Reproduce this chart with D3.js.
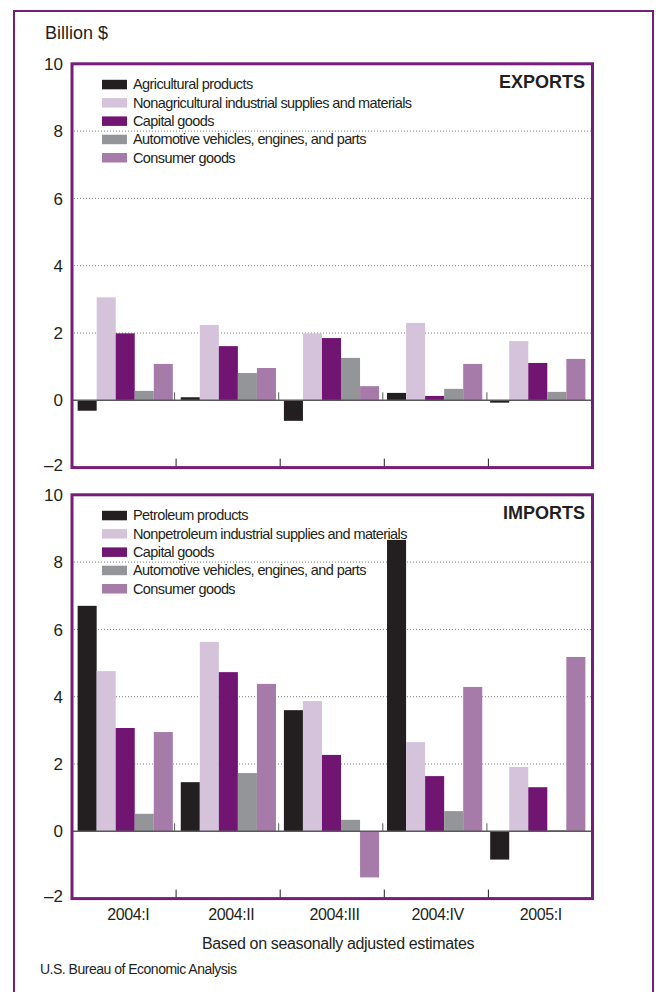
<!DOCTYPE html>
<html>
<head>
<meta charset="utf-8">
<script src="https://cdn.jsdelivr.net/npm/d3@7"></script>
<style>
  body { margin: 0; background: #fff; }
  svg { display: block; font-family: "Liberation Sans", Arial, sans-serif; }
</style>
</head>
<body>
<svg width="656" height="992"></svg>
<script>
// categories
const quarters = ["2004:I", "2004:II", "2004:III", "2004:IV", "2005:I"];
const yTicks = [-2, 0, 2, 4, 6, 8, 10];

const exportSeries = [
  "Agricultural products",
  "Nonagricultural industrial supplies and materials",
  "Capital goods",
  "Automotive vehicles, engines, and parts",
  "Consumer goods"
];
const importSeries = [
  "Petroleum products",
  "Nonpetroleum industrial supplies and materials",
  "Capital goods",
  "Automotive vehicles, engines, and parts",
  "Consumer goods"
];

// change, billion $
const exportsAgri     = [-0.31, 0.09, -0.61, 0.22, -0.07];
const exportsNonag    = [3.06, 2.24, 1.99, 2.30, 1.76];
const exportsCapital  = [1.99, 1.61, 1.85, 0.13, 1.11];
const exportsAuto     = [0.28, 0.81, 1.26, 0.34, 0.25];
const exportsConsumer = [1.08, 0.96, 0.42, 1.08, 1.23];

const importsPetroleum = [6.70, 1.46, 3.60, 8.66, -0.84];
const importsNonpet    = [4.76, 5.63, 3.87, 2.65, 1.91];
const importsCapital   = [3.07, 4.73, 2.27, 1.64, 1.31];
const importsAuto      = [0.52, 1.73, 0.34, 0.60, 0.04];
const importsConsumer  = [2.95, 4.38, -1.37, 4.29, 5.18];

const colors = ["#231f20", "#d5c3dc", "#701672", "#939598", "#a67ba9"];
const purple = "#761c79";

const svg = d3.select("svg");

// outer frame
svg.append("rect")
  .attr("x", 14).attr("y", 11)
  .attr("width", 639).attr("height", 1000)
  .attr("fill", "none")
  .attr("stroke", purple)
  .attr("stroke-width", 2);

svg.append("text")
  .attr("x", 45).attr("y", 39)
  .attr("font-size", 18)
  .attr("fill", "#231f20")
  .text("Billion $");

const left = 72, right = 592.5;

// group positions
const x0 = d3.scaleBand()
  .domain(quarters)
  .range([73.5, 589.5])
  .paddingInner(0.077)
  .paddingOuter(0.04);

// dividers between quarters
const xDiv = d3.scaleLinear().domain([0, quarters.length]).range([left, right]);

const panels = [
  { title: "EXPORTS", series: exportSeries, top: 63.8,
    values: [exportsAgri, exportsNonag, exportsCapital, exportsAuto, exportsConsumer] },
  { title: "IMPORTS", series: importSeries, top: 494.8,
    values: [importsPetroleum, importsNonpet, importsCapital, importsAuto, importsConsumer] }
];

panels.forEach(drawPanel);

function drawPanel(p) {
  const height = 403.8;
  const y = d3.scaleLinear().domain([-2, 10]).range([p.top + height, p.top]);
  const x1 = d3.scaleBand().domain(d3.range(p.series.length)).range([0, x0.bandwidth()]);

  const g = svg.append("g");

  // dotted gridlines
  g.selectAll("line.grid")
    .data(yTicks.filter(t => t > 0 && t < 10))
    .join("line")
    .attr("class", "grid")
    .attr("x1", left + 2).attr("x2", right)
    .attr("y1", d => y(d)).attr("y2", d => y(d))
    .attr("stroke", "#6d6e71")
    .attr("stroke-width", 0.9)
    .attr("stroke-dasharray", "1,2");

  // tick labels
  g.selectAll("text.tick")
    .data(yTicks)
    .join("text")
    .attr("class", "tick")
    .attr("x", 63)
    .attr("y", d => y(d) - (d === -2 ? 3 : 0))
    .attr("dy", "0.36em")
    .attr("text-anchor", "end")
    .attr("font-size", 17)
    .attr("fill", "#231f20")
    .text(d => d < 0 ? "\u2013" + Math.abs(d) : d);

  // bars
  const rows = quarters.map((q, i) => ({ q, vals: p.values.map(s => s[i]) }));
  g.selectAll("g.grp")
    .data(rows)
    .join("g")
    .attr("class", "grp")
    .attr("transform", d => `translate(${x0(d.q)},0)`)
    .selectAll("rect")
    .data(d => d.vals.map((v, k) => ({ v, k })))
    .join("rect")
    .attr("x", d => x1(d.k))
    .attr("width", x1.bandwidth())
    .attr("y", d => y(Math.max(0, d.v)))
    .attr("height", d => Math.abs(y(d.v) - y(0)))
    .attr("fill", d => colors[d.k]);

  // zero line
  g.append("line")
    .attr("x1", left).attr("x2", right)
    .attr("y1", y(0)).attr("y2", y(0))
    .attr("stroke", "#58595b")
    .attr("stroke-width", 1.5);

  // quarter dividers, at zero line and at bottom
  const divs = d3.range(1, quarters.length);
  g.selectAll("line.divz")
    .data(divs)
    .join("line")
    .attr("class", "divz")
    .attr("x1", d => xDiv(d) - 1.5).attr("x2", d => xDiv(d) - 1.5)
    .attr("y1", y(0)).attr("y2", y(0) - 8)
    .attr("stroke", "#58595b").attr("stroke-width", 1);
  g.selectAll("line.divb")
    .data(divs)
    .join("line")
    .attr("class", "divb")
    .attr("x1", d => xDiv(d)).attr("x2", d => xDiv(d))
    .attr("y1", y(-2)).attr("y2", y(-2) - 9)
    .attr("stroke", "#231f20").attr("stroke-width", 1);

  // plot frame
  g.append("rect")
    .attr("x", left).attr("y", y(10))
    .attr("width", right - left).attr("height", y(-2) - y(10))
    .attr("fill", "none")
    .attr("stroke", purple)
    .attr("stroke-width", 3);

  // panel title
  g.append("text")
    .attr("x", 585).attr("y", p.top + 24)
    .attr("text-anchor", "end")
    .attr("font-size", 18)
    .attr("font-weight", "bold")
    .attr("fill", "#231f20")
    .text(p.title);

  // legend
  const leg = g.selectAll("g.leg")
    .data(p.series)
    .join("g")
    .attr("class", "leg")
    .attr("transform", (d, i) => `translate(102,${p.top + 25.5 + i * 18.3})`);
  leg.append("rect")
    .attr("x", 0).attr("y", -9.5)
    .attr("width", 25).attr("height", 9.5)
    .attr("fill", (d, i) => colors[i]);
  leg.append("text")
    .attr("x", 31).attr("y", 0)
    .attr("font-size", 14.5)
    .attr("letter-spacing", -0.6)
    .attr("fill", "#231f20")
    .text(d => d);
}

// quarter labels
svg.selectAll("text.q")
  .data(quarters)
  .join("text")
  .attr("class", "q")
  .attr("x", d => x0(d) + x0.bandwidth() / 2 + 3)
  .attr("y", 920)
  .attr("text-anchor", "middle")
  .attr("font-size", 16)
  .attr("letter-spacing", -0.4)
  .attr("fill", "#231f20")
  .text(d => d);

svg.append("text")
  .attr("x", 338).attr("y", 949)
  .attr("text-anchor", "middle")
  .attr("font-size", 16)
  .attr("letter-spacing", -0.35)
  .attr("fill", "#231f20")
  .text("Based on seasonally adjusted estimates");

svg.append("text")
  .attr("x", 40).attr("y", 974)
  .attr("font-size", 14)
  .attr("letter-spacing", -0.5)
  .attr("fill", "#231f20")
  .text("U.S. Bureau of Economic Analysis");
</script>
</body>
</html>
